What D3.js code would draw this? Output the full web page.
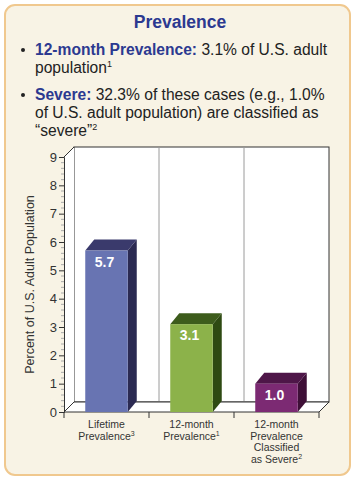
<!DOCTYPE html>
<html><head><meta charset="utf-8">
<script src="https://cdn.jsdelivr.net/npm/d3@7"></script>
<style>
html,body{margin:0;padding:0;background:#fff;}
svg{display:block;font-family:"Liberation Sans",Arial,sans-serif;}
</style></head>
<body><svg id="c" width="355" height="481"></svg>
<script>
const categories = ["Lifetime", "12-month", "12-month Severe"];
const values = [5.7, 3.1, 1.0];
const valueLabels = ["5.7", "3.1", "1.0"];
const categoryLabels = [
  [["Lifetime",""],["Prevalence","3"]],
  [["12-month",""],["Prevalence","1"]],
  [["12-month",""],["Prevalence",""],["Classified",""],["as Severe","2"]]
];
const yTicks = [0,1,2,3,4,5,6,7,8,9];
const frontColors = ["#6874b2", "#8cb24a", "#7c2a73"];
const sideColors = ["#2b2a52", "#2e4a12", "#3e0f37"];
const topColors = ["#3a3a6c", "#3d5c1c", "#4e1648"];

const svg = d3.select("#c");
// panel
svg.append("rect").attr("x",5).attr("y",5).attr("width",345).attr("height",470)
  .attr("rx",10).attr("fill","#f8f3e5").attr("stroke","#f0c88e").attr("stroke-width",2);

svg.append("text").attr("x",180).attr("y",28).attr("text-anchor","middle")
  .attr("font-size",17.5).attr("font-weight","bold").attr("fill","#2c3990").text("Prevalence");

function bullet(y){ svg.append("circle").attr("cx",23).attr("cy",y).attr("r",2).attr("fill","#222"); }
const fs = 15.6;
bullet(50);
let t = svg.append("text").attr("x",35).attr("y",55).attr("font-size",fs).attr("fill","#222");
t.append("tspan").attr("font-weight","bold").attr("fill","#2c3990").text("12-month Prevalence:");
t.append("tspan").text(" 3.1% of U.S. adult");
t = svg.append("text").attr("x",35).attr("y",73).attr("font-size",fs).attr("fill","#222");
t.append("tspan").text("population");
t.append("tspan").attr("font-size",9).attr("dy",-6).text("1");
bullet(95);
t = svg.append("text").attr("x",35).attr("y",100).attr("font-size",fs).attr("fill","#222");
t.append("tspan").attr("font-weight","bold").attr("fill","#2c3990").text("Severe:");
t.append("tspan").text(" 32.3% of these cases (e.g., 1.0%");
svg.append("text").attr("x",35).attr("y",118).attr("font-size",fs).attr("fill","#222")
  .text("of U.S. adult population) are classified as");
t = svg.append("text").attr("x",35).attr("y",136).attr("font-size",fs).attr("fill","#222");
t.append("tspan").text("\u201Csevere\u201D");
t.append("tspan").attr("font-size",9).attr("dy",-6).text("2");

// chart geometry
const x0 = 64, x1 = 319, yB = 412, yT = 157, DX = 10, DY = -10;
const x = d3.scaleBand().domain(categories).range([x0,x1]).paddingInner(0.5).paddingOuter(0.25);
const y = d3.scaleLinear().domain([0,9]).range([yB,yT]);
const ink = "#333";

const g = svg.append("g");
// back wall
g.append("rect").attr("x",x0+DX).attr("y",yT+DY).attr("width",x1-x0).attr("height",yB-yT)
  .attr("fill","#fff").attr("stroke",ink).attr("stroke-width",1);
// left wall
g.append("polygon").attr("points",[[x0,yB],[x0,yT],[x0+DX,yT+DY],[x0+DX,yB+DY]].join(" "))
  .attr("fill","#fff").attr("stroke","none");
g.append("line").attr("x1",x0).attr("y1",yT).attr("x2",x0+DX).attr("y2",yT+DY).attr("stroke",ink);
// category dividers on back wall
const bounds = categories.slice(1).map(c => x(c) - x.step()*x.paddingInner()/2);
g.selectAll(".div").data(bounds).join("line")
  .attr("x1",d=>d+DX).attr("x2",d=>d+DX).attr("y1",yT+DY).attr("y2",yB+DY)
  .attr("stroke","#9a9a9a").attr("stroke-width",1);
// floor
g.append("polygon").attr("points",[[x0,yB],[x1,yB],[x1+DX,yB+DY],[x0+DX,yB+DY]].join(" "))
  .attr("fill","#fff").attr("stroke",ink).attr("stroke-width",1);

// bars
const bw = x.bandwidth(), bdx = 9, bdy = -11;
const bars = g.selectAll(".bar").data(values).join("g");
bars.append("polygon").attr("points",(d,i)=>{
  const l = x(categories[i]), r = l+bw, tp = y(d);
  return [[r,tp],[r+bdx,tp+bdy],[r+bdx,yB+bdy],[r,yB]].join(" ");
}).attr("fill",(d,i)=>sideColors[i]);
bars.append("polygon").attr("points",(d,i)=>{
  const l = x(categories[i]), r = l+bw, tp = y(d);
  return [[l,tp],[l+bdx,tp+bdy],[r+bdx,tp+bdy],[r,tp]].join(" ");
}).attr("fill",(d,i)=>topColors[i]);
bars.append("rect").attr("x",(d,i)=>x(categories[i])).attr("y",d=>y(d))
  .attr("width",bw).attr("height",d=>yB-y(d)).attr("fill",(d,i)=>frontColors[i]);
bars.append("text").attr("x",(d,i)=>x(categories[i])+bw/2-2).attr("y",d=>y(d)+16)
  .attr("text-anchor","middle").attr("font-size",14).attr("font-weight","bold")
  .attr("fill","#fff").text((d,i)=>valueLabels[i]);

// y axis
const minor = d3.range(0,9.01,0.2).filter(v=>Math.abs(v-Math.round(v))>1e-6);
g.selectAll(".mt").data(minor).join("line")
  .attr("x1",x0-3).attr("x2",x0).attr("y1",d=>y(d)).attr("y2",d=>y(d)).attr("stroke","#aaa");
const yAxis = d3.axisLeft(y).tickValues(yTicks).tickSize(5).tickFormat(d3.format("d"));
const ya = svg.append("g").attr("transform",`translate(${x0},0)`).call(yAxis);
ya.select(".domain").attr("stroke",ink);
ya.selectAll(".tick line").attr("stroke",ink);
ya.selectAll(".tick text").attr("font-size",13).attr("fill","#333")
  .attr("font-family","Liberation Sans, Arial, sans-serif").attr("x",-7);

// x axis ticks
const xt = [x0, ...bounds, x1];
svg.selectAll(".xt").data(xt).join("line")
  .attr("x1",d=>d).attr("x2",d=>d).attr("y1",yB).attr("y2",yB+6).attr("stroke",ink);

// x labels
categoryLabels.forEach((lines,i)=>{
  const cx = x(categories[i]) + bw/2;
  lines.forEach((ln,j)=>{
    const tt = svg.append("text").attr("x",cx).attr("y",428+j*11.5)
      .attr("text-anchor","middle").attr("font-size",10.5).attr("fill","#333");
    tt.append("tspan").text(ln[0]);
    if(ln[1]) tt.append("tspan").attr("font-size",7).attr("dy",-4).text(ln[1]);
  });
});

// y title
svg.append("text").attr("transform",`translate(34,${(yB+yT)/2}) rotate(-90)`)
  .attr("text-anchor","middle").attr("font-size",12.5).attr("fill","#333")
  .text("Percent of U.S. Adult Population");
</script></body></html>
